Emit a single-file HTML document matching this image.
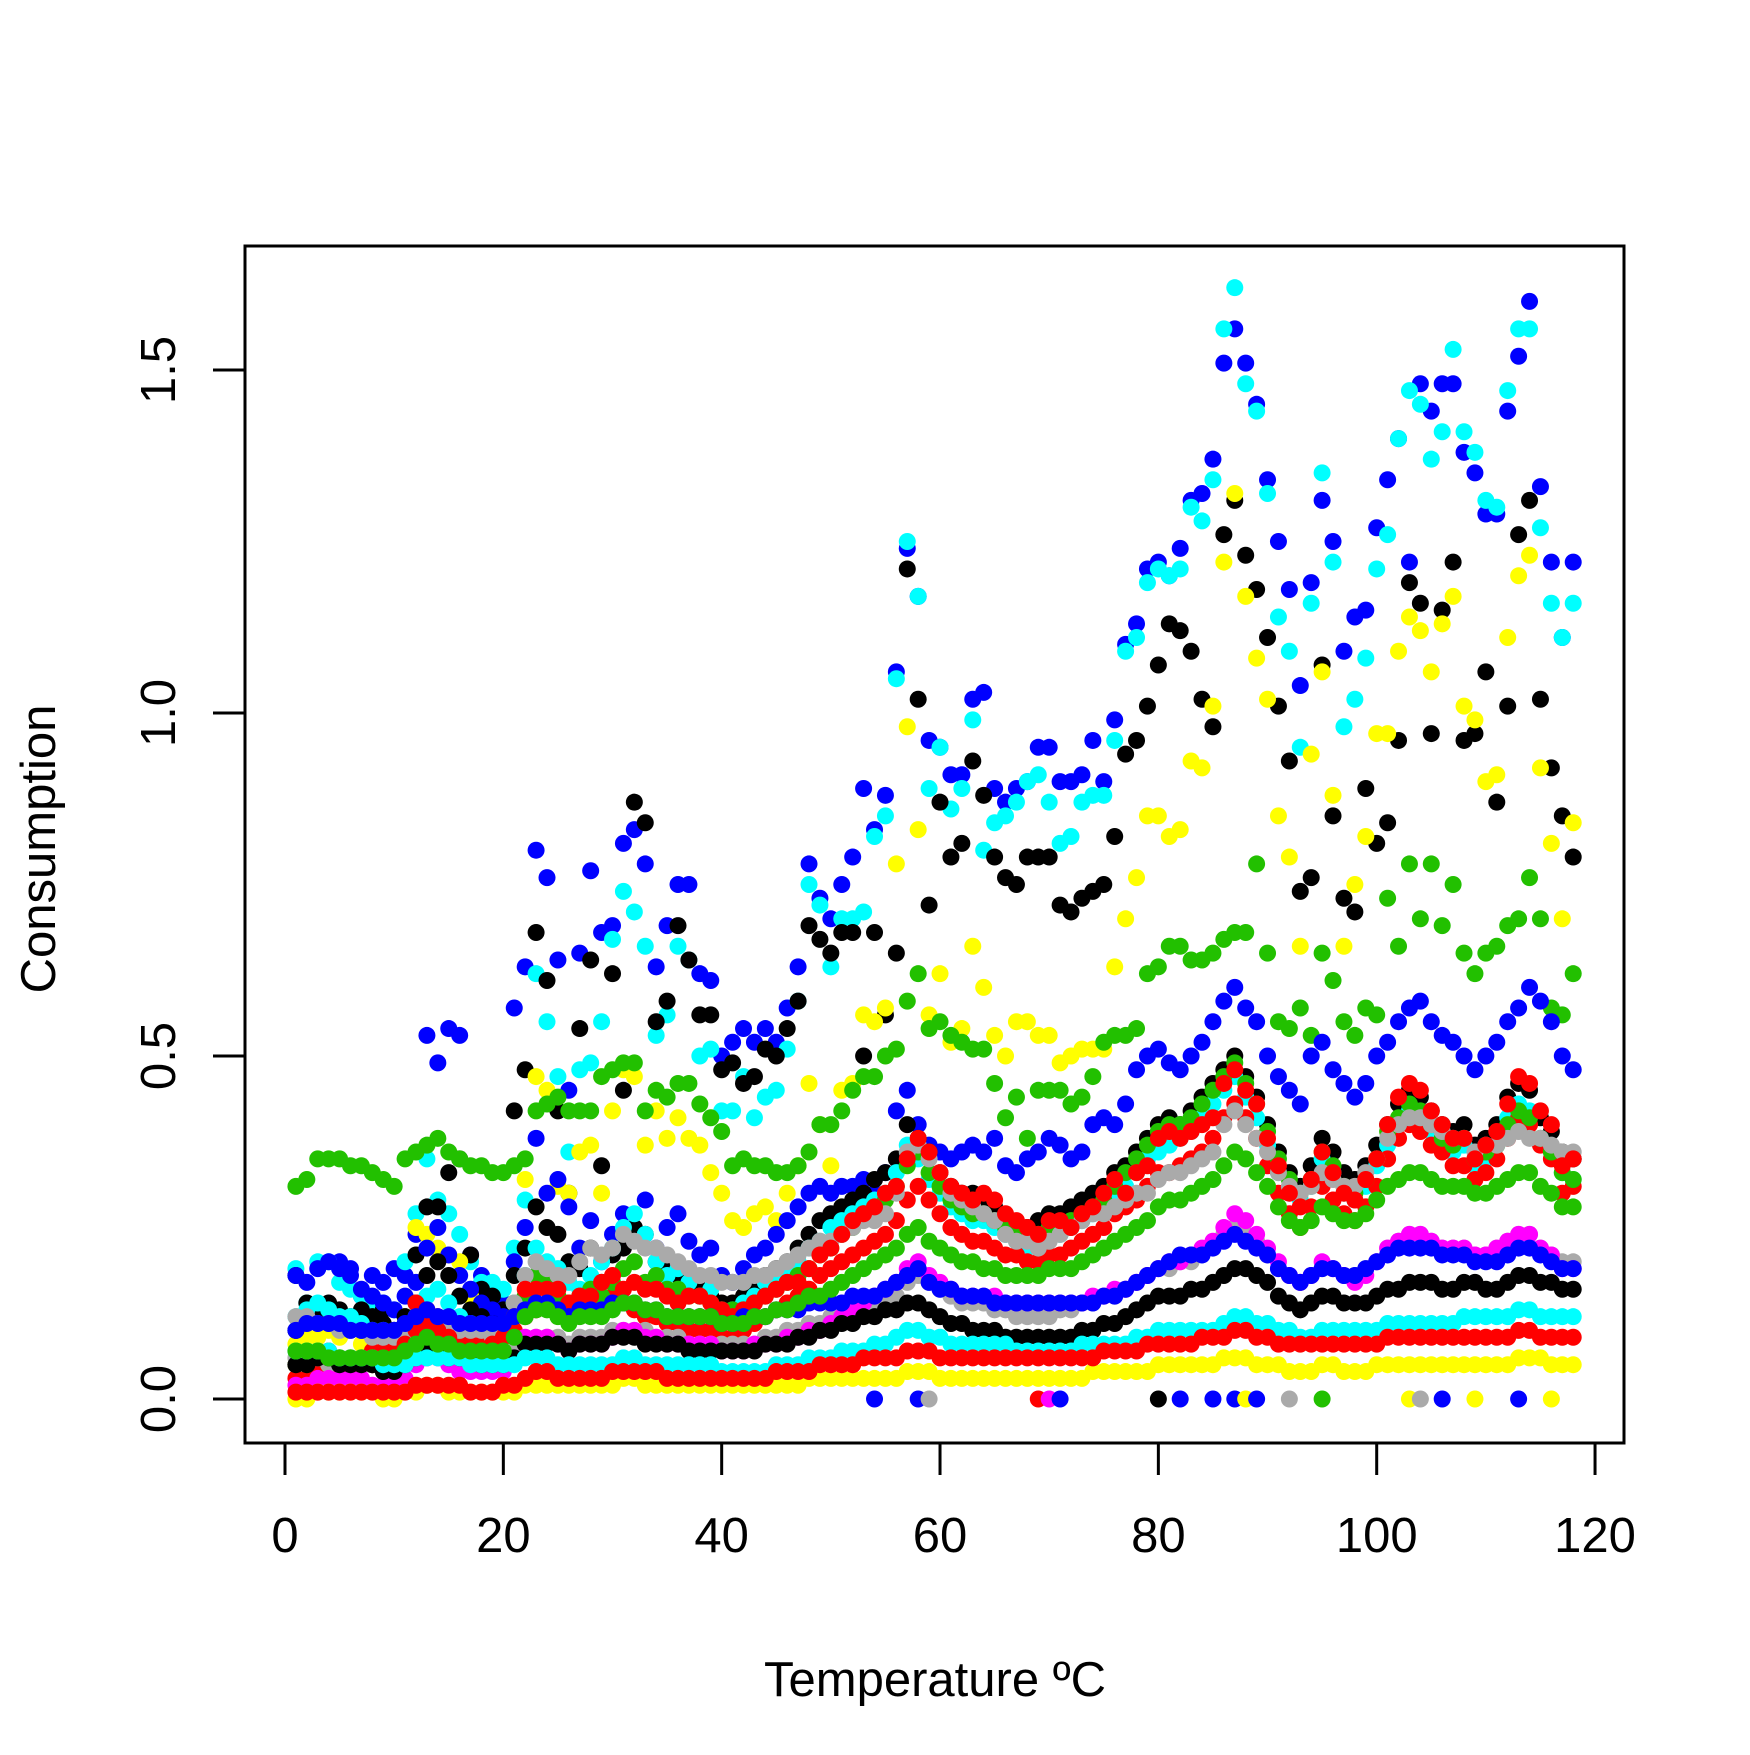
<!DOCTYPE html>
<html><head><meta charset="utf-8"><style>
html,body{margin:0;padding:0;background:#fff;}
svg text{font-family:"Liberation Sans",Arial,sans-serif;fill:#000;}
</style></head><body>
<svg id="chart" width="1750" height="1750" viewBox="0 0 1750 1750" xmlns="http://www.w3.org/2000/svg">
<g id="points"></g>
<rect x="245" y="246" width="1379" height="1197" fill="none" stroke="#000" stroke-width="3"/>
<g id="axes"></g>
<text x="935" y="1696" font-size="49" text-anchor="middle">Temperature ºC</text>
<text x="0" y="0" font-size="49" text-anchor="middle" transform="translate(55,849) rotate(-90)">Consumption</text>
</svg>
<script>
const xTicks=[0,20,40,60,80,100,120];
const yTicks=[0,0.5,1.0,1.5];
const yTickLabels=["0.0","0.5","1.0","1.5"];
const palette=["black","red","#22C000","blue","#00FFFF","magenta","yellow","#AAAAAA"];
const seriesColorIdx=[3,4,0,6,2,3,0,4,1,2,7,1,7,5,3,0,4,6,2,1];
const sBlueHigh=[.10,.11,.12,.11,.20,.19,.15,.18,.17,.19,.18,.24,.53,.49,.54,.53,.21,.18,.15,.14,.57,.63,.80,.76,.64,.45,.65,.77,.68,.69,.81,.83,.78,.63,.69,.75,.75,.62,.61,.50,.52,.54,.52,.54,.52,.57,.63,.78,.73,.70,.75,.79,.89,.83,.88,1.06,1.24,1.17,.96,.95,.91,.91,1.02,1.03,.89,.87,.89,.90,.95,.95,.90,.90,.91,.96,.90,.99,1.10,1.13,1.21,1.22,1.20,1.24,1.31,1.32,1.37,1.51,1.56,1.51,1.45,1.34,1.25,1.18,1.04,1.19,1.31,1.25,1.09,1.14,1.15,1.27,1.34,1.40,1.22,1.48,1.44,1.48,1.48,1.38,1.35,1.29,1.29,1.44,1.52,1.60,1.33,1.22,1.11,1.22];
const sCyanHigh=[.19,.14,.20,.20,.17,.16,.15,.14,.14,.13,.20,.27,.35,.29,.27,.24,.20,.17,.17,.16,.22,.29,.62,.55,.47,.36,.48,.49,.55,.67,.74,.71,.66,.53,.56,.66,.64,.50,.51,.42,.42,.47,.41,.44,.45,.51,.58,.75,.72,.63,.70,.70,.71,.82,.85,1.05,1.25,1.17,.89,.95,.86,.89,.99,.80,.84,.85,.87,.90,.91,.87,.81,.82,.87,.88,.88,.96,1.09,1.11,1.19,1.21,1.20,1.21,1.30,1.28,1.34,1.56,1.62,1.48,1.44,1.32,1.14,1.09,.95,1.16,1.35,1.22,.98,1.02,1.08,1.21,1.26,1.40,1.47,1.45,1.37,1.41,1.53,1.41,1.38,1.31,1.30,1.47,1.56,1.56,1.27,1.16,1.11,1.16];
const sBlackHigh=[.18,.14,.13,.14,.13,.12,.13,.12,.13,.10,.12,.21,.28,.28,.33,.35,.21,.16,.15,.13,.42,.48,.68,.61,.42,.30,.54,.64,.34,.62,.45,.87,.84,.55,.58,.69,.64,.56,.56,.48,.49,.46,.47,.51,.50,.54,.58,.69,.67,.65,.68,.68,.50,.68,.56,.65,1.21,1.02,.72,.87,.79,.81,.93,.88,.79,.76,.75,.79,.79,.79,.72,.71,.73,.74,.75,.82,.94,.96,1.01,1.07,1.13,1.12,1.09,1.02,.98,1.26,1.31,1.23,1.18,1.11,1.01,.93,.74,.76,1.07,.85,.73,.71,.89,.81,.84,.96,1.19,1.16,.97,1.15,1.22,.96,.97,1.06,.87,1.01,1.26,1.31,1.02,.92,.85,.79];
const sYellowHigh=[.08,.09,.09,.10,.09,.10,.08,.09,.10,.09,.12,.25,.24,.22,.21,.20,.15,.13,.12,.10,.14,.32,.47,.45,.31,.30,.36,.37,.30,.42,.48,.47,.37,.42,.38,.41,.38,.37,.33,.30,.26,.25,.27,.28,.26,.30,.34,.46,.40,.34,.45,.46,.56,.55,.57,.78,.98,.83,.56,.62,.52,.54,.66,.60,.53,.50,.55,.55,.53,.53,.49,.50,.51,.51,.51,.63,.70,.76,.85,.85,.82,.83,.93,.92,1.01,1.22,1.32,1.17,1.08,1.02,.85,.79,.66,.94,1.06,.88,.66,.75,.82,.97,.97,1.09,1.14,1.12,1.06,1.13,1.17,1.01,.99,.90,.91,1.11,1.20,1.23,.92,.81,.70,.84];
const sGreenHigh=[.31,.32,.35,.35,.35,.34,.34,.33,.32,.31,.35,.36,.37,.38,.36,.35,.34,.34,.33,.33,.34,.35,.42,.43,.44,.42,.42,.42,.47,.48,.49,.49,.42,.45,.44,.46,.46,.43,.41,.39,.34,.35,.34,.34,.33,.33,.34,.36,.40,.40,.42,.45,.47,.47,.50,.51,.58,.62,.54,.55,.53,.52,.51,.51,.46,.41,.44,.38,.45,.45,.45,.43,.44,.47,.52,.53,.53,.54,.62,.63,.66,.66,.64,.64,.65,.67,.68,.68,.78,.65,.55,.54,.57,.53,.65,.61,.55,.53,.57,.56,.73,.66,.78,.70,.78,.69,.75,.65,.62,.65,.66,.69,.70,.76,.70,.57,.56,.62];
const sBlueMid=[.18,.17,.19,.20,.19,.18,.16,.15,.14,.13,.15,.17,.22,.25,.21,.18,.16,.14,.13,.12,.20,.25,.38,.30,.32,.28,.22,.26,.20,.24,.27,.24,.29,.22,.25,.27,.23,.21,.22,.18,.17,.19,.21,.22,.24,.26,.28,.30,.31,.30,.31,.31,.32,.30,.33,.42,.45,.40,.37,.36,.35,.36,.37,.36,.38,.34,.33,.35,.36,.38,.37,.35,.36,.40,.41,.40,.43,.48,.50,.51,.49,.48,.50,.52,.55,.58,.60,.57,.55,.50,.47,.45,.43,.50,.52,.48,.46,.44,.46,.50,.52,.55,.57,.58,.55,.53,.52,.50,.48,.50,.52,.55,.57,.60,.58,.55,.50,.48];
const sBlackMid=[.10,.12,.13,.12,.12,.11,.10,.10,.11,.10,.12,.14,.18,.20,.18,.15,.13,.12,.11,.10,.18,.22,.28,.25,.24,.20,.19,.22,.17,.21,.22,.25,.24,.20,.19,.18,.17,.16,.15,.14,.14,.15,.16,.18,.19,.20,.22,.24,.26,.27,.28,.29,.30,.32,.33,.35,.40,.38,.36,.33,.31,.30,.30,.29,.28,.26,.25,.25,.26,.27,.27,.28,.29,.30,.31,.33,.34,.36,.38,.40,.41,.40,.42,.44,.46,.48,.50,.47,.44,.40,.36,.33,.31,.34,.38,.36,.33,.32,.34,.37,.40,.43,.45,.44,.42,.40,.39,.40,.37,.38,.40,.44,.46,.45,.41,.39,.36,.35];
const sCyanMid=[.12,.13,.14,.13,.12,.12,.11,.10,.10,.09,.10,.12,.15,.16,.14,.12,.11,.10,.10,.09,.14,.18,.22,.20,.19,.17,.16,.18,.20,.22,.25,.27,.24,.20,.18,.19,.17,.15,.16,.13,.13,.14,.15,.17,.18,.19,.20,.22,.23,.25,.26,.27,.28,.29,.30,.33,.37,.35,.32,.30,.28,.27,.26,.26,.25,.24,.23,.22,.23,.24,.24,.25,.26,.27,.28,.29,.31,.33,.35,.36,.37,.38,.39,.41,.43,.45,.47,.44,.41,.37,.33,.30,.29,.31,.35,.33,.30,.29,.31,.34,.37,.40,.42,.41,.39,.37,.36,.37,.34,.35,.37,.41,.43,.42,.38,.36,.33,.32];
const sRedMid2=[.05,.06,.06,.07,.06,.06,.06,.07,.07,.08,.10,.14,.13,.12,.11,.09,.08,.08,.09,.10,.10,.12,.13,.14,.13,.12,.13,.14,.13,.15,.14,.13,.12,.12,.11,.11,.10,.10,.10,.09,.09,.10,.11,.12,.13,.14,.15,.16,.18,.19,.20,.21,.22,.23,.24,.26,.29,.31,.29,.27,.25,.24,.23,.23,.22,.21,.21,.20,.20,.21,.21,.22,.23,.24,.25,.27,.28,.29,.31,.33,.33,.34,.35,.36,.38,.41,.43,.41,.38,.34,.30,.27,.25,.28,.31,.29,.27,.26,.28,.31,.35,.38,.40,.39,.37,.36,.34,.34,.32,.33,.35,.38,.41,.40,.37,.35,.30,.31];
const sGreenMid2=[.05,.05,.06,.06,.06,.05,.05,.05,.05,.05,.06,.08,.09,.09,.08,.07,.06,.06,.06,.06,.12,.15,.18,.17,.15,.14,.15,.16,.15,.17,.19,.20,.17,.18,.16,.16,.15,.15,.14,.13,.13,.13,.14,.15,.16,.17,.18,.19,.21,.22,.24,.25,.27,.28,.29,.31,.34,.36,.33,.31,.29,.28,.27,.27,.26,.25,.25,.24,.24,.25,.25,.26,.27,.28,.29,.31,.33,.35,.37,.39,.40,.40,.41,.43,.45,.47,.49,.46,.43,.39,.35,.32,.30,.32,.36,.34,.31,.30,.32,.35,.39,.41,.43,.42,.40,.38,.37,.38,.35,.36,.37,.40,.42,.41,.38,.36,.33,.32];
const sGrayMid=[.12,.12,.11,.11,.10,.10,.10,.09,.09,.09,.09,.10,.10,.10,.10,.10,.10,.10,.09,.09,.14,.18,.20,.19,.18,.18,.20,.22,.21,.22,.24,.23,.22,.22,.21,.20,.19,.18,.18,.17,.17,.17,.18,.18,.19,.20,.21,.22,.23,.23,.24,.25,.26,.26,.27,.30,.36,.37,.35,.33,.30,.29,.28,.27,.26,.24,.23,.23,.22,.23,.24,.25,.26,.27,.27,.28,.29,.30,.30,.32,.33,.33,.34,.35,.36,.40,.42,.40,.38,.36,.33,.31,.30,.31,.33,.32,.31,.31,.33,.35,.38,.40,.41,.41,.40,.39,.38,.38,.36,.37,.37,.38,.39,.38,.38,.37,.36,.36];
const sRedMid=[.03,.03,.04,.04,.04,.04,.05,.05,.05,.05,.08,.10,.11,.10,.09,.07,.07,.07,.08,.09,.12,.16,.16,.16,.16,.14,.15,.15,.17,.18,.16,.17,.16,.16,.15,.14,.15,.15,.14,.13,.12,.13,.14,.15,.16,.17,.17,.19,.21,.22,.24,.26,.27,.28,.30,.31,.35,.38,.36,.33,.31,.30,.29,.30,.29,.27,.26,.25,.24,.26,.26,.25,.27,.28,.30,.32,.30,.33,.34,.38,.39,.38,.39,.40,.41,.46,.48,.45,.43,.38,.34,.30,.28,.32,.36,.33,.30,.29,.32,.35,.40,.44,.46,.45,.42,.40,.38,.38,.35,.37,.39,.43,.47,.46,.42,.40,.34,.35];
const sGrayMid2=[.06,.06,.06,.05,.05,.05,.05,.05,.05,.05,.05,.06,.07,.07,.06,.06,.06,.05,.05,.05,.07,.08,.09,.09,.09,.08,.09,.09,.09,.10,.10,.10,.10,.09,.09,.09,.08,.08,.08,.08,.08,.08,.08,.09,.09,.10,.10,.11,.11,.12,.12,.13,.13,.14,.14,.15,.17,.18,.17,.16,.15,.14,.14,.14,.13,.13,.12,.12,.12,.12,.13,.13,.14,.14,.15,.15,.16,.17,.18,.19,.19,.20,.20,.21,.22,.24,.25,.24,.23,.21,.19,.18,.17,.18,.19,.19,.18,.18,.19,.20,.22,.23,.24,.24,.23,.22,.22,.22,.21,.21,.22,.23,.24,.24,.22,.21,.20,.20];
const sMagenta=[.02,.02,.03,.03,.03,.03,.03,.02,.02,.02,.03,.05,.06,.06,.05,.04,.04,.04,.04,.04,.06,.09,.09,.09,.08,.07,.08,.08,.08,.09,.10,.10,.09,.09,.08,.08,.08,.08,.08,.07,.07,.07,.08,.08,.08,.09,.09,.10,.10,.11,.12,.13,.14,.15,.16,.17,.19,.20,.18,.17,.16,.15,.15,.15,.15,.14,.14,.14,.14,.14,.14,.14,.14,.15,.15,.16,.16,.17,.18,.19,.20,.20,.21,.22,.23,.25,.27,.26,.24,.22,.20,.18,.17,.18,.20,.19,.18,.17,.18,.20,.22,.23,.24,.24,.23,.22,.22,.22,.21,.21,.22,.23,.24,.24,.22,.21,.19,.19];
const sBlueLow=[.10,.11,.11,.11,.11,.10,.10,.10,.10,.10,.11,.12,.13,.12,.12,.11,.11,.11,.11,.11,.12,.13,.14,.14,.13,.12,.13,.13,.13,.14,.14,.14,.13,.13,.12,.12,.12,.12,.12,.11,.11,.12,.12,.12,.13,.13,.13,.14,.14,.14,.14,.15,.15,.15,.16,.17,.18,.19,.17,.16,.16,.15,.15,.15,.14,.14,.14,.14,.14,.14,.14,.14,.14,.14,.15,.15,.16,.17,.18,.19,.20,.21,.21,.21,.22,.23,.24,.23,.22,.21,.19,.18,.17,.18,.19,.19,.18,.18,.19,.20,.21,.22,.22,.22,.22,.21,.21,.21,.20,.20,.20,.21,.22,.22,.21,.20,.19,.19];
const sBlackLow=[.05,.05,.06,.06,.05,.05,.05,.05,.04,.04,.05,.06,.07,.07,.06,.06,.06,.05,.05,.05,.06,.08,.08,.08,.08,.07,.08,.08,.08,.09,.09,.09,.08,.08,.08,.08,.07,.07,.07,.07,.07,.07,.07,.08,.08,.08,.09,.09,.10,.10,.11,.11,.12,.12,.13,.13,.14,.14,.13,.12,.11,.11,.10,.10,.10,.09,.09,.09,.09,.09,.09,.09,.10,.10,.11,.11,.12,.13,.14,.15,.15,.15,.16,.16,.17,.18,.19,.19,.18,.17,.15,.14,.13,.14,.15,.15,.14,.14,.14,.15,.16,.16,.17,.17,.17,.16,.16,.17,.17,.16,.16,.17,.18,.18,.17,.17,.16,.16];
const sCyanLow=[.07,.07,.07,.07,.06,.06,.06,.06,.05,.05,.05,.06,.06,.06,.06,.06,.05,.05,.05,.05,.05,.06,.06,.06,.05,.05,.05,.05,.05,.05,.06,.06,.05,.05,.05,.05,.05,.05,.05,.04,.04,.04,.04,.04,.05,.05,.05,.06,.06,.06,.07,.07,.07,.08,.08,.09,.10,.10,.09,.09,.08,.08,.08,.08,.08,.08,.07,.07,.07,.07,.07,.07,.08,.08,.08,.08,.08,.09,.09,.10,.10,.10,.10,.10,.10,.11,.12,.12,.11,.11,.10,.10,.09,.09,.10,.10,.10,.10,.10,.10,.11,.11,.11,.11,.11,.11,.11,.12,.12,.12,.12,.12,.13,.13,.12,.12,.12,.12];
const sYellowLow=[.00,.00,.01,.01,.01,.01,.01,.01,.00,.00,.01,.01,.02,.02,.01,.01,.01,.01,.01,.01,.01,.02,.02,.02,.02,.02,.02,.02,.02,.02,.03,.03,.02,.02,.02,.02,.02,.02,.02,.02,.02,.02,.02,.02,.02,.02,.02,.03,.03,.03,.03,.03,.03,.03,.03,.03,.04,.04,.04,.03,.03,.03,.03,.03,.03,.03,.03,.03,.03,.03,.03,.03,.03,.04,.04,.04,.04,.04,.04,.05,.05,.05,.05,.05,.05,.06,.06,.06,.05,.05,.05,.04,.04,.04,.05,.05,.04,.04,.04,.05,.05,.05,.05,.05,.05,.05,.05,.05,.05,.05,.05,.05,.06,.06,.06,.05,.05,.05];
const sGreenLow=[.07,.07,.07,.06,.06,.06,.06,.06,.06,.06,.07,.08,.09,.08,.08,.07,.07,.07,.07,.07,.09,.12,.13,.13,.12,.11,.12,.12,.12,.13,.14,.14,.13,.13,.12,.12,.12,.12,.12,.11,.11,.11,.12,.12,.13,.13,.14,.15,.15,.16,.17,.18,.19,.20,.21,.22,.24,.25,.23,.22,.21,.20,.20,.19,.19,.18,.18,.18,.18,.19,.19,.19,.20,.21,.22,.23,.24,.25,.26,.28,.29,.29,.30,.31,.32,.34,.36,.35,.33,.31,.28,.26,.25,.26,.28,.27,.26,.26,.27,.29,.31,.32,.33,.33,.32,.31,.31,.31,.30,.30,.31,.32,.33,.33,.31,.30,.28,.28];
const sRedLow=[.01,.01,.01,.01,.01,.01,.01,.01,.01,.01,.01,.02,.02,.02,.02,.02,.01,.01,.01,.02,.02,.03,.04,.04,.03,.03,.03,.03,.03,.04,.04,.04,.04,.04,.03,.03,.03,.03,.03,.03,.03,.03,.03,.03,.04,.04,.04,.04,.05,.05,.05,.05,.06,.06,.06,.06,.07,.07,.07,.06,.06,.06,.06,.06,.06,.06,.06,.06,.06,.06,.06,.06,.06,.06,.07,.07,.07,.07,.08,.08,.08,.08,.08,.09,.09,.09,.10,.10,.09,.09,.08,.08,.08,.08,.08,.08,.08,.08,.08,.08,.09,.09,.09,.09,.09,.09,.09,.09,.09,.09,.09,.09,.10,.10,.09,.09,.09,.09];
const seriesList=[sBlueHigh,sCyanHigh,sBlackHigh,sYellowHigh,sGreenHigh,sBlueMid,sBlackMid,sCyanMid,sRedMid2,sGreenMid2,sGrayMid,sRedMid,sGrayMid2,sMagenta,sBlueLow,sBlackLow,sCyanLow,sYellowLow,sGreenLow,sRedLow];
const outlierX=[54,58,59,69,70,71,80,82,85,87,88,89,92,95,103,104,106,109,113,116];
const outlierY=[0,0,0,0,0,0,0,0,0,0,0,0,0,0,0,0,0,0,0,0];
const outlierColorIdx=[3,3,7,1,5,3,0,3,3,3,6,3,7,2,6,7,3,6,3,6];

const NS="http://www.w3.org/2000/svg";
function xs(v){return 285+v*10.917;}
function ys(v){return 1399-v*686;}
const gp=document.getElementById('points');
function dot(x,y,col){
  const c=document.createElementNS(NS,'circle');
  
  
  c.setAttribute('cx',xs(x));c.setAttribute('cy',ys(y));
  c.setAttribute('r',8.5);c.setAttribute('fill',col);
  gp.appendChild(c);
}
outlierX.forEach((x,i)=>dot(x,outlierY[i],palette[outlierColorIdx[i]]));
seriesList.forEach((arr,si)=>{
  arr.forEach((v,i)=>dot(i+1,v,palette[seriesColorIdx[si]]));
});
const ga=document.getElementById('axes');
function line(x1,y1,x2,y2){const l=document.createElementNS(NS,'line');l.setAttribute('x1',x1);l.setAttribute('y1',y1);l.setAttribute('x2',x2);l.setAttribute('y2',y2);l.setAttribute('stroke','#000');l.setAttribute('stroke-width',3);return l;}
const xl=line(xs(xTicks[0]),1443,xs(xTicks[xTicks.length-1]),1443);


ga.appendChild(xl);
xTicks.forEach(t=>{
  const l=line(xs(t),1443,xs(t),1475);
  
  
  ga.appendChild(l);
  const tx=document.createElementNS(NS,'text');
  
  
  tx.setAttribute('x',xs(t));tx.setAttribute('y',1552);tx.setAttribute('font-size','49');tx.setAttribute('text-anchor','middle');
  tx.textContent=String(t);ga.appendChild(tx);
});
const yl=line(245,ys(yTicks[0]),245,ys(yTicks[yTicks.length-1]));


ga.appendChild(yl);
yTicks.forEach((t,i)=>{
  const l=line(213,ys(t),245,ys(t));
  
  
  ga.appendChild(l);
  const tx=document.createElementNS(NS,'text');
  
  
  tx.setAttribute('x',0);tx.setAttribute('y',0);tx.setAttribute('font-size','49');tx.setAttribute('text-anchor','middle');
  tx.setAttribute('transform','translate(175,'+ys(t)+') rotate(-90)');
  tx.textContent=yTickLabels[i];ga.appendChild(tx);
});
</script>
</body></html>
